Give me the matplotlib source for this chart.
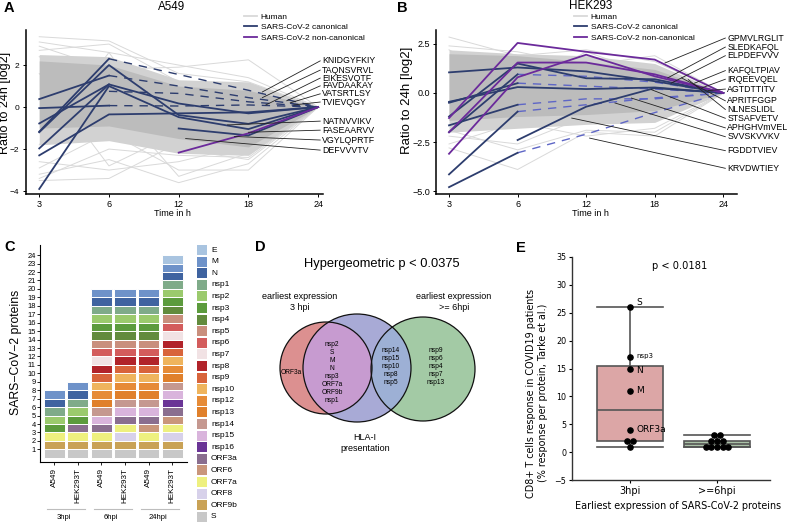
import numpy as np
import matplotlib
matplotlib.use('Agg')
import matplotlib.pyplot as plt
from matplotlib.patches import Circle, Rectangle
from matplotlib.lines import Line2D
import matplotlib.transforms as mtrans

plt.rcParams['font.family'] = ['Liberation Sans', 'DejaVu Sans']

nan = np.nan
times = ['3', '6', '12', '18', '24']

# ---------------- panel A data (A549) ----------------
a_core = ([-1.0, -0.9, -1.5, -1.9, 0.0], [2.2, 2.0, 1.0, 0.8, 0.0])
a_mid = ([-1.8, -1.6, -2.2, -2.3, 0.0], [2.5, 2.4, 1.3, 1.2, 0.0])
a_human = [
    [3.35, 3.15, 1.6, 1.2, 0.0],
    [3.1, 2.6, 2.0, 1.4, 0.0],
    [2.9, 1.8, 1.9, 2.25, 0.0],
    [2.7, 3.0, 1.2, 0.9, 0.0],
    [-3.5, -3.4, -1.7, -1.3, 0.0],
    [-3.2, -2.5, -3.6, -2.7, 0.0],
    [-2.9, -1.2, -3.0, -3.0, 0.0],
    [-2.6, -3.0, -2.6, -1.8, 0.0],
    [-3.4, -2.0, -2.3, -2.4, 0.0],
    [1.6, -2.8, -1.2, -0.7, 0.0],
    [-1.8, 2.6, -2.0, -2.5, 0.0],
    [2.4, 0.5, -3.3, -2.2, 0.0],
]
a_solid = [
    [0.38, 1.50, nan, nan, nan],
    [-0.05, 0.07, nan, nan, nan],
    [-0.78, 1.08, 0.17, -0.30, 0.0],
    [-1.17, 2.30, nan, nan, nan],
    [-1.20, 2.00, -0.38, -0.80, 0.0],
    [-1.97, 1.08, nan, nan, nan],
    [-2.30, -0.35, -0.30, -0.25, 0.0],
    [-3.90, 1.00, -0.48, -1.05, 0.0],
    [nan, nan, -1.02, -1.35, 0.0],
]
a_dashed = [
    [nan, 2.30, 1.55, 0.80, 0.0],
    [nan, 1.50, 1.00, 0.45, 0.0],
    [nan, 0.75, 0.65, 0.25, 0.0],
    [nan, 0.07, 0.05, 0.10, 0.0],
]
a_noncanon = [[nan, nan, -2.17, -1.25, 0.0]]
a_labels = ['KNIDGYFKIY', 'TAQNSVRVL', 'EIKESVQTF', 'FAVDAAKAY', 'VATSRTLSY',
            'TVIEVQGY', 'NATNVVIKV', 'FASEAARVV', 'VGYLQPRTF', 'DEFVVVTV']
a_label_y = [2.2, 1.76, 1.38, 1.01, 0.63, 0.24, -0.67, -1.1, -1.57, -2.05]
a_leader_x = [3.2, 3.2, 3.25, 3.55, 3.6, 3.65, 2.7, 3.0, 2.8, 2.1]
a_leader_y = [0.72, 0.45, 0.1, 0.3, 0.2, 0.1, -0.85, -1.2, -1.4, -1.5]

# ---------------- panel B data (HEK293) ----------------
b_core = ([-1.4, -1.2, -1.1, -0.9, 0.0], [2.0, 1.9, 1.6, 1.2, 0.0])
b_mid = ([-2.0, -1.8, -1.6, -1.5, 0.0], [2.2, 2.0, 1.9, 1.5, 0.0])
b_human = [
    [2.85, 1.9, 2.2, 1.6, 0.0],
    [2.4, 2.1, 1.4, 1.9, 0.0],
    [-2.8, -3.9, -2.0, -2.2, 0.0],
    [-2.6, -1.5, -2.2, -1.8, 0.0],
    [-2.2, -2.6, -1.2, -1.3, 0.0],
    [2.2, 0.2, 2.1, 0.9, 0.0],
    [-1.9, -2.9, -1.9, -2.0, 0.0],
]
b_solid = [
    [1.05, 1.30, 1.10, 0.60, 0.0],
    [-0.45, 0.30, 0.20, 0.28, 0.0],
    [-0.50, 0.50, nan, nan, nan],
    [-1.20, 1.50, 0.75, 0.70, 0.0],
    [-1.65, -0.60, nan, nan, nan],
    [-2.00, 0.95, nan, nan, nan],
    [-4.15, -0.95, nan, nan, nan],
    [-4.80, -3.05, nan, nan, nan],
    [nan, -2.40, -0.70, 0.25, 0.0],
]
b_dashed = [
    [nan, 0.95, 0.85, 0.55, 0.0],
    [nan, 0.50, 0.35, 0.20, 0.0],
    [nan, -0.60, -0.30, -0.30, 0.0],
    [nan, -0.95, -0.60, -0.25, 0.0],
    [nan, -3.05, -2.10, -1.00, 0.0],
]
b_noncanon = [
    [-1.28, 2.55, 2.10, 1.70, 0.0],
    [-2.00, 1.55, 1.55, 0.95, 0.0],
    [-3.10, 0.80, 1.95, 0.85, 0.0],
]
b_labels = ['GPMVLRGLIT', 'SLEDKAFQL', 'ELPDEFVVV', 'KAFQLTPIAV', 'IRQEEVQEL',
            'AGTDTTITV', 'APRITFGGP', 'NLNESLIDL', 'STSAFVETV', 'APHGHVmVEL',
            'SVVSKVVKV', 'FGDDTVIEV', 'KRVDWTIEY']
b_label_y = [2.80, 2.34, 1.90, 1.14, 0.70, 0.20, -0.40, -0.84, -1.29, -1.78,
             -2.23, -2.94, -3.84]
b_leader_x = [3.15, 3.19, 3.24, 3.58, 3.68, 3.78, 3.39, 3.49, 2.95, 2.66, 2.42, 1.79, 2.05]
b_leader_y = [1.53, 0.77, 0.5, 0.5, 0.25, 0.12, 0.77, 0.68, 0.17, -0.26, -0.51, -1.28, -2.3]

# ---------------- panel C data ----------------
c_samples = ['A549', 'HEK293T', 'A549', 'HEK293T', 'A549', 'HEK293T']
c_groups = ['3hpi', '6hpi', '24hpi']
proteins = ['E', 'M', 'N', 'nsp1', 'nsp2', 'nsp3', 'nsp4', 'nsp5', 'nsp6', 'nsp7',
            'nsp8', 'nsp9', 'nsp10', 'nsp12', 'nsp13', 'nsp14', 'nsp15', 'nsp16',
            'ORF3a', 'ORF6', 'ORF7a', 'ORF8', 'ORF9b', 'S']
protein_colors = ['#a9c4e0', '#6e92c9', '#3f63a0', '#7fab89', '#9bca6d', '#5c9b3d',
                  '#628b3d', '#c98f7d', '#d35c5c', '#f1e2e4', '#b1232a', '#d8643b',
                  '#efb45d', '#e68b37', '#e0802b', '#c59890', '#d9b4dc', '#6a3496',
                  '#8a6e8f', '#c9967b', '#eef07f', '#d7d1ea', '#c9a256', '#c8c8c8']
c_stacks = [
    ['S', 'ORF9b', 'ORF7a', 'nsp3', 'nsp2', 'nsp1', 'N', 'M'],
    ['S', 'ORF9b', 'ORF7a', 'ORF3a', 'nsp3', 'nsp2', 'nsp1', 'N', 'M'],
    ['S', 'ORF9b', 'ORF7a', 'ORF3a', 'nsp15', 'nsp14', 'nsp13', 'nsp12', 'nsp10',
     'nsp9', 'nsp8', 'nsp7', 'nsp6', 'nsp5', 'nsp4', 'nsp3', 'nsp2', 'nsp1', 'N', 'M'],
    ['S', 'ORF9b', 'ORF8', 'ORF7a', 'ORF3a', 'nsp15', 'nsp14', 'nsp13', 'nsp12',
     'nsp10', 'nsp9', 'nsp8', 'nsp6', 'nsp5', 'nsp4', 'nsp3', 'nsp2', 'nsp1', 'N', 'M'],
    ['S', 'ORF9b', 'ORF7a', 'ORF6', 'ORF3a', 'nsp15', 'nsp14', 'nsp13', 'nsp12',
     'nsp10', 'nsp9', 'nsp8', 'nsp6', 'nsp5', 'nsp4', 'nsp3', 'nsp2', 'nsp1', 'N', 'M'],
    ['S', 'ORF9b', 'ORF8', 'ORF7a', 'ORF6', 'ORF3a', 'nsp16', 'nsp15', 'nsp14',
     'nsp13', 'nsp12', 'nsp10', 'nsp9', 'nsp8', 'nsp7', 'nsp6', 'nsp5', 'nsp4',
     'nsp3', 'nsp2', 'nsp1', 'N', 'M', 'E'],
]

# ---------------- panel D data ----------------
venn_title = 'Hypergeometric p < 0.0375'
venn_early_only = ['ORF3a']
venn_early_hla = ['nsp2', 'S', 'M', 'N', 'nsp3', 'ORF7a', 'ORF9b', 'nsp1']
venn_late_hla = ['nsp14', 'nsp15', 'nsp10', 'nsp8', 'nsp5']
venn_late_only = ['nsp9', 'nsp6', 'nsp4', 'nsp7', 'nsp13']

# ---------------- panel E data ----------------
e_categories = ['3hpi', '>=6hpi']
e_early = [26, 17, 15, 11, 4, 2, 2, 1]
e_early_names = ['S', 'nsp3', 'N', 'M', 'ORF3a', '', '', '']
e_late = [3, 3, 2, 2, 2, 1, 1, 1, 1, 1]

NAVY = '#2d3d6e'
PURPLE = '#6b2a9b'
HUMAN = '#d9d9d9'

W, H = 791, 525
fig = plt.figure(figsize=(7.91, 5.25), dpi=100)


def px_axes(x0, y0, x1, y1):
    return fig.add_axes([x0 / W, 1 - y1 / H, (x1 - x0) / W, (y1 - y0) / H])


def fx(x):
    return x / W


def fy(y):
    return 1 - y / H


def time_panel(ax, core, mid, human, solid, dashed, dash_color, noncanon,
               labels, label_y, lx, ly):
    x = np.arange(len(times))
    for h in human:
        ax.plot(x, h, color=HUMAN, lw=0.7, zorder=1)
    ax.fill_between(x, mid[0], mid[1], color='#d2d2d2', lw=0, zorder=1.5)
    ax.fill_between(x, core[0], core[1], color='#bcbcbc', lw=0, zorder=1.6)
    for d in dashed:
        ax.plot(x, d, color=dash_color, lw=1.0, dashes=(6, 5), zorder=3)
    for s in solid:
        ax.plot(x, s, color=NAVY, lw=1.3, zorder=4)
    for p in noncanon:
        ax.plot(x, p, color=PURPLE, lw=1.3, zorder=4)
    for name, ty, sx, sy in zip(labels, label_y, lx, ly):
        ax.plot([sx, 4.03], [sy, ty], color='#222222', lw=0.6, clip_on=False, zorder=5)
        ax.text(4.06, ty, name, fontsize=6.3, va='center', ha='left', clip_on=False)
    ax.set_xticks(x)
    ax.set_xticklabels(times, fontsize=6.5)
    ax.tick_params(axis='x', length=2.5, width=0.7, pad=1.5)
    for sp in ['top', 'right']:
        ax.spines[sp].set_visible(False)
    for sp in ['left', 'bottom']:
        ax.spines[sp].set_linewidth(1.1)


legend_handles = [Line2D([], [], color=HUMAN, lw=1.3, label='Human'),
                  Line2D([], [], color=NAVY, lw=1.3, label='SARS-CoV-2 canonical'),
                  Line2D([], [], color=PURPLE, lw=1.3, label='SARS-CoV-2 non-canonical')]

# ---------- A ----------
ax_a = px_axes(26, 30, 323, 194)
time_panel(ax_a, a_core, a_mid, a_human, a_solid, a_dashed, NAVY, a_noncanon,
           a_labels, a_label_y, a_leader_x, a_leader_y)
ax_a.set_xlim(-0.19, 4.07)
ax_a.set_ylim(-4.14, 3.67)
ax_a.set_yticks([-4, -2, 0, 2])
ax_a.tick_params(axis='y', labelsize=6.0, length=2.5, width=0.7, pad=2.5)
ax_a.legend(handles=legend_handles, loc='upper left', bbox_to_anchor=(fx(244), fy(13)),
            bbox_transform=fig.transFigure, frameon=False, fontsize=6,
            handlelength=1.5, handletextpad=0.5, labelspacing=0.3,
            borderpad=0, borderaxespad=0)
fig.text(fx(172), fy(7), 'A549', fontsize=8.4, ha='center', va='center')
fig.text(fx(4.6), fy(103), 'Ratio to 24h [log2]', fontsize=9, rotation=90,
         ha='center', va='center')
fig.text(fx(172), fy(213), 'Time in h', fontsize=6.5, ha='center', va='center')

# ---------- B ----------
ax_b = px_axes(436, 30, 737, 194)
time_panel(ax_b, b_core, b_mid, b_human, b_solid, b_dashed, '#5e66c6', b_noncanon,
           b_labels, b_label_y, b_leader_x, b_leader_y)
ax_b.set_xlim(-0.19, 4.2)
ax_b.set_ylim(-5.15, 3.21)
ax_b.set_yticks([-5, -2.5, 0, 2.5])
ax_b.tick_params(axis='y', labelsize=6.5, length=2.5, width=0.7, pad=1.5)
ax_b.legend(handles=legend_handles, loc='upper left', bbox_to_anchor=(fx(574), fy(13)),
            bbox_transform=fig.transFigure, frameon=False, fontsize=6,
            handlelength=1.5, handletextpad=0.5, labelspacing=0.3,
            borderpad=0, borderaxespad=0)
fig.text(fx(591), fy(6), 'HEK293', fontsize=8.4, ha='center', va='center')
fig.text(fx(407), fy(100), 'Ratio to 24h [log2]', fontsize=9.5, rotation=90,
         ha='center', va='center')
fig.text(fx(590), fy(213), 'Time in h', fontsize=6.5, ha='center', va='center')

# ---------- C ----------
color_of = dict(zip(proteins, protein_colors))
ax_c = px_axes(40, 245, 187, 462)
for i, stack in enumerate(c_stacks):
    ax_c.bar([i] * len(stack), [1] * len(stack), bottom=np.arange(len(stack)),
             width=0.9, color=[color_of[p] for p in stack], edgecolor='white',
             linewidth=0.7)
ax_c.set_xlim(-0.6, 5.63)
ax_c.set_ylim(-0.5, 25.2)
ax_c.set_yticks(range(1, 25))
ax_c.tick_params(axis='y', labelsize=5.4, length=2, width=0.6, pad=1)
ax_c.set_xticks(range(len(c_samples)))
ax_c.set_xticklabels(c_samples, rotation=90, fontsize=5.9)
ax_c.tick_params(axis='x', length=2, width=0.6, pad=2)
for sp in ['top', 'right']:
    ax_c.spines[sp].set_visible(False)
trans_c = mtrans.blended_transform_factory(ax_c.transData, ax_c.transAxes)
for g, name in enumerate(c_groups):
    ax_c.plot([2 * g - 0.3, 2 * g + 1.3], [-0.217, -0.217], transform=trans_c,
              color='#bdbdbd', lw=0.8, clip_on=False)
    ax_c.text(2 * g + 0.4, -0.258, name, transform=trans_c, fontsize=5.5,
              ha='center', va='center')
fig.text(fx(16), fy(352), 'SARS\u2212CoV\u22122 proteins', fontsize=8.8, rotation=90,
         ha='center', va='center')
for i, (name, col) in enumerate(zip(proteins, protein_colors)):
    yc = 250 + 11.6 * i
    fig.add_artist(Rectangle((fx(197), fy(yc + 5)), 10 / W, 10 / H,
                             transform=fig.transFigure, facecolor=col, edgecolor='none'))
    fig.text(fx(211), fy(yc), name, fontsize=6, va='center', ha='left')

# ---------- D ----------
ax_d = px_axes(260, 255, 520, 525)
ax_d.set_xlim(260, 520)
ax_d.set_ylim(525, 255)
ax_d.axis('off')
red_c = Circle((326, 368), 46, facecolor='#dc9090', edgecolor='none')
blue_c = Circle((357, 368), 54, facecolor='#a8aad6', edgecolor='none')
green_c = Circle((423, 369), 52, facecolor='#a3caa5', edgecolor='none')
for c in [red_c, blue_c, green_c]:
    ax_d.add_patch(c)
rb = Circle((357, 368), 54, facecolor='#c79bd0', edgecolor='none')
ax_d.add_patch(rb)
rb.set_clip_path(red_c)
bg = Circle((357, 368), 54, facecolor='#9db0d5', edgecolor='none')
ax_d.add_patch(bg)
bg.set_clip_path(green_c)
for ctr, r in [((326, 368), 46), ((357, 368), 54), ((423, 369), 52)]:
    ax_d.add_patch(Circle(ctr, r, fill=False, edgecolor='#111111', lw=0.9))
ax_d.text(382, 264, venn_title, fontsize=9.3, ha='center', va='center')
ax_d.text(300, 302, 'earliest expression\n3 hpi', fontsize=6.5, ha='center',
          va='center', linespacing=1.2)
ax_d.text(454, 302, 'earliest expression\n>= 6hpi', fontsize=6.5, ha='center',
          va='center', linespacing=1.2)
ax_d.text(365, 443, 'HLA-I\npresentation', fontsize=6.5, ha='center', va='center',
          linespacing=1.3)
ax_d.text(281, 372, '\n'.join(venn_early_only), fontsize=4.8, ha='left', va='center')
ax_d.text(332, 372, '\n'.join(venn_early_hla), fontsize=4.8, ha='center', va='center',
          linespacing=1.2)
ax_d.text(391, 367, '\n'.join(venn_late_hla), fontsize=4.8, ha='center', va='center',
          linespacing=1.2)
ax_d.text(436, 366, '\n'.join(venn_late_only), fontsize=4.8, ha='center', va='center',
          linespacing=1.2)

# ---------- E ----------
ax_e = px_axes(572, 257, 770, 480)
bp = ax_e.boxplot([e_early, e_late], positions=[0, 1], widths=0.76, whis=(0, 100),
                  patch_artist=True, capwidths=0.76, showfliers=False,
                  medianprops=dict(color='#555555', lw=1.2),
                  whiskerprops=dict(color='#555555', lw=1.2),
                  capprops=dict(color='#555555', lw=1.2),
                  boxprops=dict(edgecolor='#555555', lw=1.2))
for patch, col in zip(bp['boxes'], ['#dca6a6', '#aac1a7']):
    patch.set_facecolor(col)
for pos, vals in enumerate([e_early, e_late]):
    vals = np.array(vals)
    xs = np.zeros(len(vals))
    for v in np.unique(vals):
        idx = np.where(vals == v)[0]
        xs[idx] = (np.arange(len(idx)) - (len(idx) - 1) / 2) * 0.065
    ax_e.scatter(pos + xs, vals, s=14, color='black', zorder=5)
e_label_nudge = {'S': 0.9, 'nsp3': 0.2, 'N': -0.4, 'M': 0.0, 'ORF3a': 0.0}
for v, name in zip(e_early, e_early_names):
    if name:
        ax_e.text(0.075, v + e_label_nudge[name], name, family='DejaVu Sans',
                  fontsize=5 if name == 'nsp3' else 6.5, va='center', ha='left', zorder=6)
ax_e.set_xlim(-0.667, 1.61)
ax_e.set_ylim(-5, 35)
ax_e.set_yticks(range(-5, 36, 5))
ax_e.set_xticks([0, 1])
ax_e.set_xticklabels(e_categories, family='DejaVu Sans', fontsize=7)
for lab in ax_e.get_yticklabels():
    lab.set_family('DejaVu Sans')
ax_e.tick_params(axis='y', labelsize=5.8, length=2.5, width=0.8, pad=1.5)
ax_e.tick_params(axis='x', length=2.5, width=0.8, pad=2)
for sp in ['top', 'right']:
    ax_e.spines[sp].set_visible(False)
for sp in ['left', 'bottom']:
    ax_e.spines[sp].set_linewidth(1.0)
    ax_e.spines[sp].set_color('#333333')
fig.text(fx(680), fy(266), 'p < 0.0181', family='DejaVu Sans', fontsize=7.1,
         ha='center', va='center')
fig.text(fx(537), fy(393),
         'CD8+ T cells response in COVID19 patients\n(% response per protein, Tarke et al.)',
         family='DejaVu Sans', fontsize=6.9, rotation=90, ha='center', va='center',
         multialignment='center')
fig.text(fx(678), fy(506), 'Earliest expression of SARS-CoV-2 proteins',
         family='DejaVu Sans', fontsize=6.9, ha='center', va='center')

# panel letters
for letter, (x, y) in zip('ABCDE', [(4, 8), (397, 8), (4, 247), (255, 247), (516, 248)]):
    fig.text(fx(x), fy(y), letter, fontsize=10.5, fontweight='bold', ha='left', va='center')

fig.savefig('out.png', dpi=100)
